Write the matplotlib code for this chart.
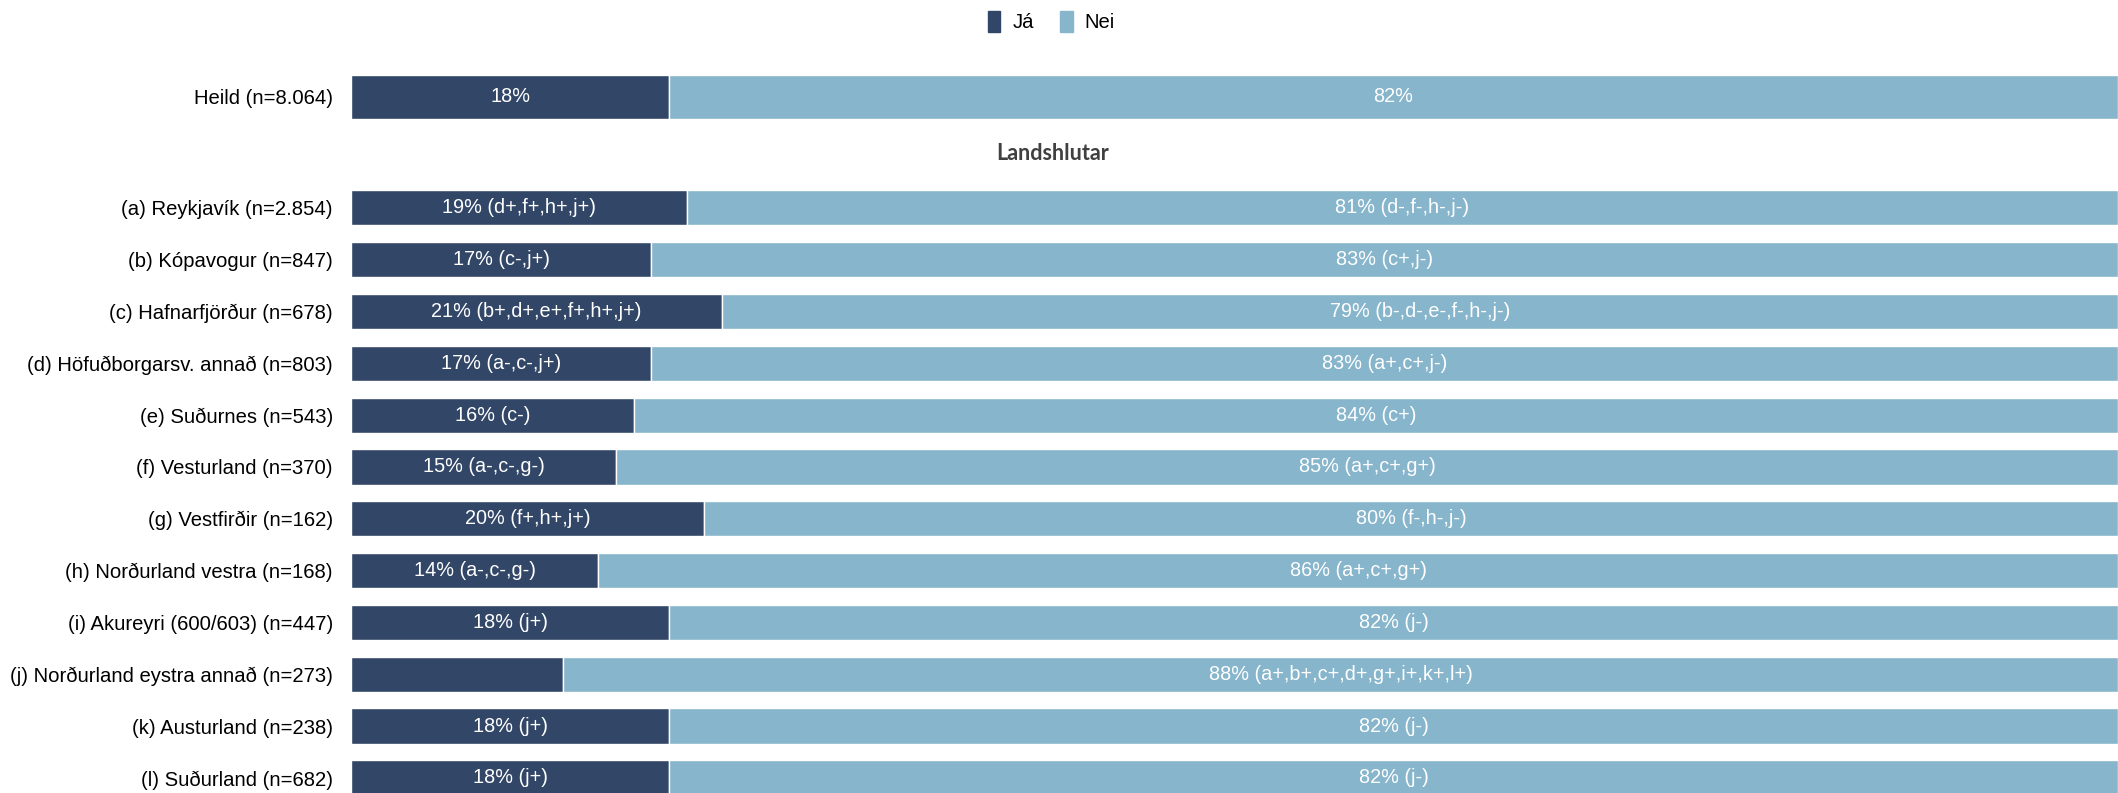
import numpy as np
from matplotlib import pyplot as plt
from matplotlib.patches import Patch
from matplotlib.transforms import blended_transform_factory

plt.rcParams["font.family"] = ["Liberation Sans", "DejaVu Sans"]

# row labels, first one is the total
labels = [
    "Heild (n=8.064)",
    "(a) Reykjavík (n=2.854)",
    "(b) Kópavogur (n=847)",
    "(c) Hafnarfjörður (n=678)",
    "(d) Höfuðborgarsv. annað (n=803)",
    "(e) Suðurnes (n=543)",
    "(f) Vesturland (n=370)",
    "(g) Vestfirðir (n=162)",
    "(h) Norðurland vestra (n=168)",
    "(i) Akureyri (600/603) (n=447)",
    "(j) Norðurland eystra annað (n=273)",
    "(k) Austurland (n=238)",
    "(l) Suðurland (n=682)",
]
ja = [18, 19, 17, 21, 17, 16, 15, 20, 14, 18, 12, 18, 18]
nei = [82, 81, 83, 79, 83, 84, 85, 80, 86, 82, 88, 82, 82]
ja_sig = ["", "(d+,f+,h+,j+)", "(c-,j+)", "(b+,d+,e+,f+,h+,j+)", "(a-,c-,j+)",
          "(c-)", "(a-,c-,g-)", "(f+,h+,j+)", "(a-,c-,g-)", "(j+)", None,
          "(j+)", "(j+)"]
nei_sig = ["", "(d-,f-,h-,j-)", "(c+,j-)", "(b-,d-,e-,f-,h-,j-)", "(a+,c+,j-)",
           "(c+)", "(a+,c+,g+)", "(f-,h-,j-)", "(a+,c+,g+)", "(j-)",
           "(a+,b+,c+,d+,g+,i+,k+,l+)", "(j-)", "(j-)"]
group_title = "Landshlutar"

DARK = "#324667"
LIGHT = "#86b5cc"

W, H = 2118, 793
fig = plt.figure(figsize=(W / 100, H / 100), dpi=100)
ax = fig.add_axes([351 / W, 0, 1 - 351 / W, 1])

# heild on its own, then a gap for the group title
ypos = np.array([0.0] + [2.14 + i for i in range(len(labels) - 1)])
heights = np.array([0.85] + [0.68] * (len(labels) - 1))

ax.barh(ypos, ja, height=heights, color=DARK, edgecolor="white", linewidth=1)
ax.barh(ypos, nei, left=ja, height=heights, color=LIGHT, edgecolor="white", linewidth=1)

for y, j, n, js, ns in zip(ypos, ja, nei, ja_sig, nei_sig):
    if js is not None:
        ax.text(j / 2, y, f"{j}% {js}".strip(), ha="center", va="center",
                color="white", fontsize=14.3)
    ax.text(j + n / 2, y, f"{n}% {ns}".strip(), ha="center", va="center",
            color="white", fontsize=14.3)

trans = blended_transform_factory(fig.transFigure, ax.transData)
ax.text(0.497, (ypos[0] + ypos[1]) / 2 + 0.03, group_title, transform=trans,
        ha="center", va="center", fontsize=15.5, fontweight="bold",
        color="#404040", family=["Lato", "DejaVu Sans"])

ax.set_xlim(0, 100)
ax.set_ylim((H - 96.9) / 51.83, -96.9 / 51.83)
ax.set_yticks(ypos, labels, fontsize=14.6)
ax.tick_params(axis="y", length=0, pad=13)
ax.set_xticks([])
for s in ax.spines.values():
    s.set_visible(False)

handles = [Patch(color=DARK, label="Já"), Patch(color=LIGHT, label="Nei")]
fig.legend(handles=handles, loc="center", bbox_to_anchor=(0.4965, 0.973), ncol=2,
           frameon=False, fontsize=14.6, handlelength=0.6, handleheight=1.2,
           columnspacing=1.3, handletextpad=0.6)

fig.savefig("out.png", dpi=100)
